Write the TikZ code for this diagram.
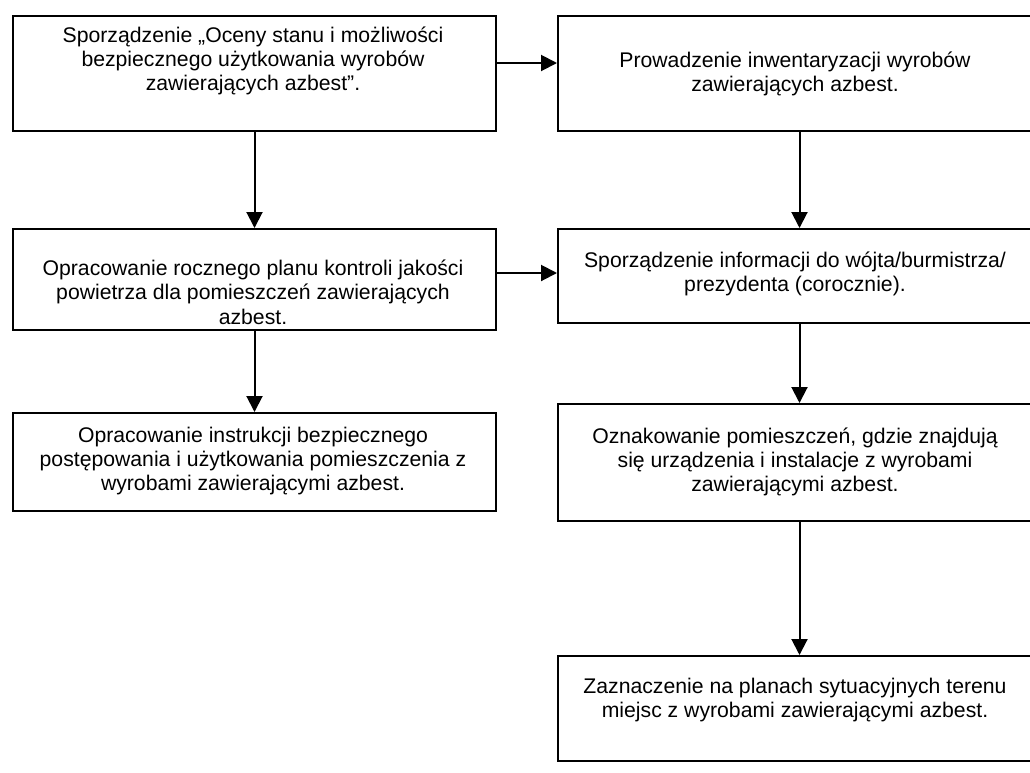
\documentclass[tikz,border=0pt]{standalone}
\usepackage{fontspec}
\setmainfont{Liberation Sans}
\usetikzlibrary{arrows.meta,calc}
\begin{document}
\begin{tikzpicture}[x=1pt,y=-1pt,
  box/.style={draw, line width=2pt, rectangle, inner sep=0pt, anchor=north west, minimum width=483pt},
  txt/.style={align=center, font=\fontsize{21.2}{24.3}\selectfont, inner sep=0pt},
  arr/.style={line width=2pt, -{Triangle[length=16pt,width=16pt]}}]
\useasboundingbox (0,0) rectangle (1030,772);
\clip (0,0) rectangle (1030,772);
% boxes
\node[box, minimum height=115pt] (b1) at (12,15) {};
\node[box, minimum height=115pt] (b2) at (557,15) {};
\node[box, minimum height=101pt] (b3) at (12,228) {};
\node[box, minimum height=94pt] (b4) at (557,228) {};
\node[box, minimum height=98pt] (b5) at (12,412) {};
\node[box, minimum height=117pt] (b6) at (557,403) {};
\node[box, minimum height=105pt] (b7) at (557,655) {};
% texts
\node[txt] (t1) at (253,61) {Sporządzenie „Oceny stanu i możliwości\\bezpiecznego użytkowania wyrobów\\zawierających azbest”.};
\node[txt] (t2) at (795,74) {Prowadzenie inwentaryzacji wyrobów\\zawierających azbest.};
\node[txt] (t3) at (253,292) {Opracowanie rocznego planu kontroli jakości\\powietrza dla pomieszczeń zawierających\\azbest.};
\node[txt] (t4) at (795,274) {Sporządzenie informacji do wójta/burmistrza/\\prezydenta (corocznie).};
\node[txt] (t5) at (253,461) {Opracowanie instrukcji bezpiecznego\\postępowania i użytkowania pomieszczenia z\\wyrobami zawierającymi azbest.};
\node[txt] (t6) at (795,462) {Oznakowanie pomieszczeń, gdzie znajdują\\się urządzenia i instalacje z wyrobami\\zawierającymi azbest.};
\node[txt] (t7) at (795,700) {Zaznaczenie na planach sytuacyjnych terenu\\miejsc z wyrobami zawierającymi azbest.};
% connectors
\draw[arr] ([yshift=-48pt]b1.north east) -- ([yshift=-48pt]b2.north west);
\draw[arr] ([yshift=-45pt]b3.north east) -- ([yshift=-45pt]b4.north west);
\draw[arr] (b1.south) -- (b3.north);
\draw[arr] (b3.south) -- (b5.north);
\draw[arr] (b2.south) -- (b4.north);
\draw[arr] (b4.south) -- (b6.north);
\draw[arr] (b6.south) -- (b7.north);
\end{tikzpicture}
\end{document}
